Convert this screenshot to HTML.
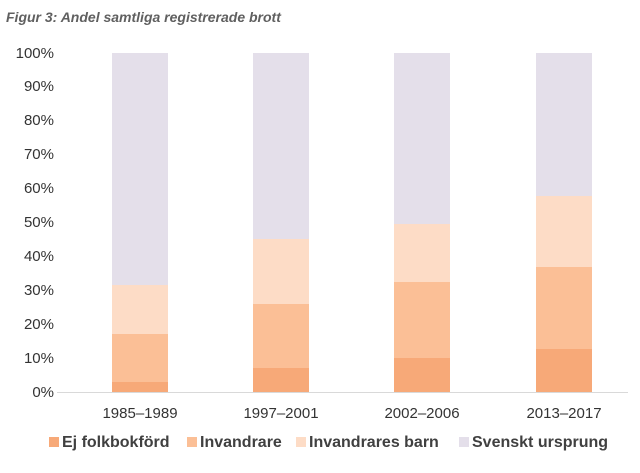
<!DOCTYPE html>
<html><head><meta charset="utf-8"><style>
body{margin:0;background:#fff;width:640px;height:468px;overflow:hidden;font-family:"Liberation Sans",sans-serif}
</style></head><body>
<svg width="640" height="468" xmlns="http://www.w3.org/2000/svg" font-family="Liberation Sans, sans-serif">
<text x="6" y="22" font-size="14" font-weight="bold" font-style="italic" fill="#606060">Figur 3: Andel samtliga registrerade brott</text>
<g font-size="15" fill="#333" text-anchor="end">
<text x="54" y="397">0%</text><text x="54" y="363">10%</text><text x="54" y="329">20%</text><text x="54" y="295">30%</text><text x="54" y="261">40%</text><text x="54" y="227">50%</text><text x="54" y="193">60%</text><text x="54" y="159">70%</text><text x="54" y="125">80%</text><text x="54" y="91">90%</text><text x="54" y="58">100%</text>
</g>
<g>
<rect x="112" y="53" width="56" height="339" fill="#e4dfea"/>
<rect x="112" y="285" width="56" height="107" fill="#fddcc6"/>
<rect x="112" y="334" width="56" height="58" fill="#fbbf96"/>
<rect x="112" y="382" width="56" height="10" fill="#f7a978"/>
<rect x="253" y="53" width="56" height="339" fill="#e4dfea"/>
<rect x="253" y="239" width="56" height="153" fill="#fddcc6"/>
<rect x="253" y="304" width="56" height="88" fill="#fbbf96"/>
<rect x="253" y="368" width="56" height="24" fill="#f7a978"/>
<rect x="394" y="53" width="56" height="339" fill="#e4dfea"/>
<rect x="394" y="224" width="56" height="168" fill="#fddcc6"/>
<rect x="394" y="282" width="56" height="110" fill="#fbbf96"/>
<rect x="394" y="358" width="56" height="34" fill="#f7a978"/>
<rect x="536" y="53" width="56" height="339" fill="#e4dfea"/>
<rect x="536" y="196" width="56" height="196" fill="#fddcc6"/>
<rect x="536" y="267" width="56" height="125" fill="#fbbf96"/>
<rect x="536" y="349" width="56" height="43" fill="#f7a978"/>
</g>
<line x1="57" y1="392.5" x2="628" y2="392.5" stroke="#d9d9d9" stroke-width="1"/>
<g font-size="15" fill="#333" text-anchor="middle">
<text x="140" y="418">1985–1989</text><text x="281" y="418">1997–2001</text><text x="422" y="418">2002–2006</text><text x="564" y="418">2013–2017</text>
</g>
<g font-size="16" font-weight="bold" fill="#404040">
<rect x="49" y="437" width="10" height="10" fill="#f7a978"/><text x="62" y="447">Ej folkbokförd</text>
<rect x="187" y="437" width="10" height="10" fill="#fbbf96"/><text x="200" y="447">Invandrare</text>
<rect x="296" y="437" width="10" height="10" fill="#fddcc6"/><text x="309" y="447">Invandrares barn</text>
<rect x="459" y="437" width="10" height="10" fill="#e4dfea"/><text x="472" y="447">Svenskt ursprung</text>
</g>
</svg>
</body></html>
